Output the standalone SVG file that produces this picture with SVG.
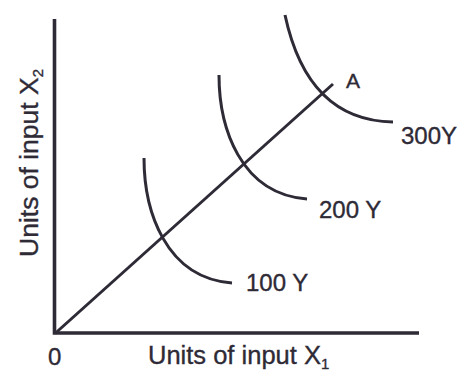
<svg xmlns="http://www.w3.org/2000/svg" width="457" height="372" viewBox="0 0 457 372">
<style>
.ln{fill:none;stroke:#2e2a36;stroke-linecap:butt}
.ax{stroke-width:3.6}
.cv{stroke-width:3}
text{font-family:"Liberation Sans",Arial,sans-serif;fill:#2e2a36;stroke:#2e2a36;stroke-width:0.35}
.lb{font-size:24px}
.sub{font-size:15px}
</style>
<rect width="457" height="372" fill="#ffffff"/>
<g id="axes">
<path class="ln ax" d="M54.5,19 V333 H419"/>
</g>
<g id="connectors">
<path class="ln cv" d="M55,333.5 L333,84"/>
</g>
<g id="curve-100">
<path class="ln cv" d="M144,158 C144,210 165,278 232,283"/>
<text class="lb" x="246" y="291">100 Y</text>
</g>
<g id="curve-200">
<path class="ln cv" d="M219,75 C219,127 240,194 307,199"/>
<text class="lb" x="319" y="218">200 Y</text>
</g>
<g id="curve-300">
<path class="ln cv" d="M285,15 C300,85 335,121 393,122"/>
<text class="lb" x="401" y="144">300Y</text>
</g>
<g id="point-A">
<text class="lb" x="346" y="88" style="font-size:21px">A</text>
</g>
<g id="labels">
<text class="lb" x="48" y="365">0</text>
<text class="lb" x="148" y="364" style="font-size:25.5px">Units of input X<tspan class="sub" dy="5">1</tspan></text>
<text class="lb" transform="translate(38,257) rotate(-90)" style="font-size:26.5px">Units of input X<tspan class="sub" dy="5">2</tspan></text>
</g>
</svg>
